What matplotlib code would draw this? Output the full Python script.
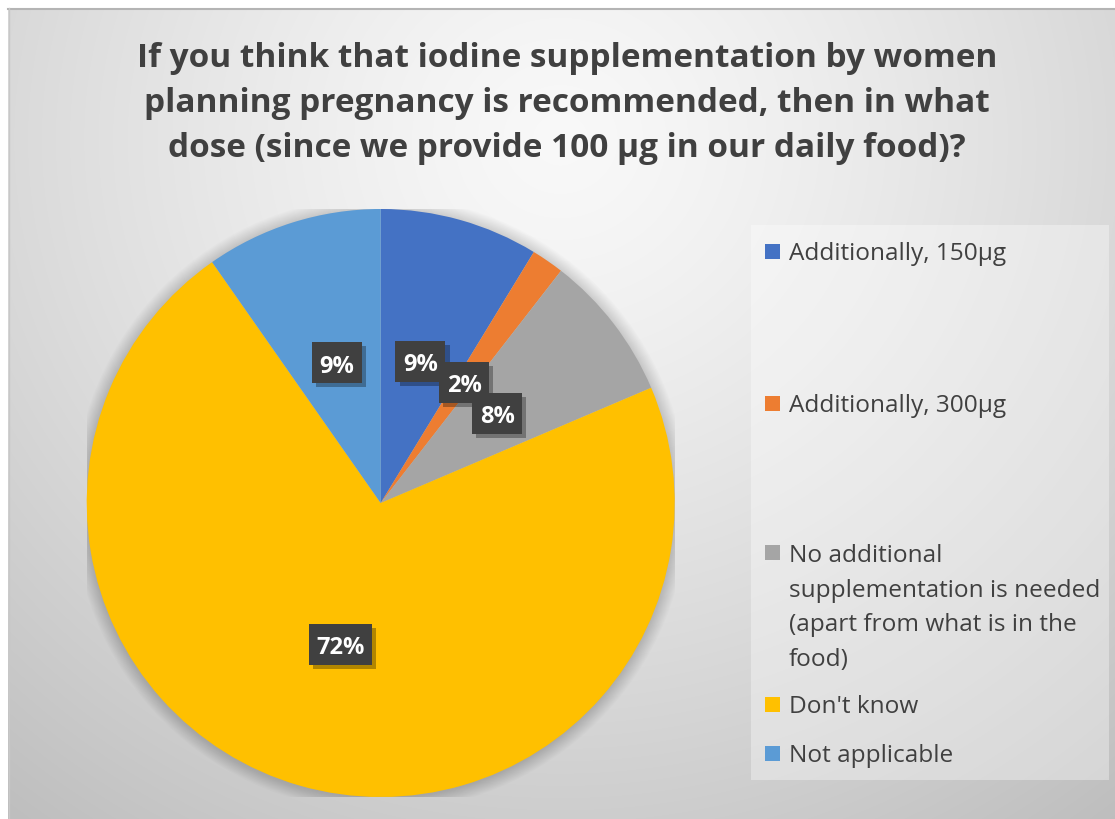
import numpy as np
import matplotlib.pyplot as plt
from matplotlib.patches import Rectangle, Circle
import matplotlib.patheffects as pe

plt.rcParams['font.family'] = ['Open Sans', 'DejaVu Sans']

#%% data
categories = ['Additionally, 150µg',
              'Additionally, 300µg',
              'No additional\nsupplementation is needed\n(apart from what is in the\nfood)',
              "Don't know",
              'Not applicable']
shares = [8.72, 1.79, 8.08, 71.69, 9.72]
pct_labels = ['9%', '2%', '8%', '72%', '9%']
colors = ['#4472C4', '#ED7D31', '#A5A5A5', '#FFC000', '#5B9BD5']
title = ('If you think that iodine supplementation by women\n'
         'planning pregnancy is recommended, then in what\n'
         'dose (since we provide 100 µg in our daily food)?')

W, H = 1115, 820
fig = plt.figure(figsize=(W / 100, H / 100), dpi=100)
fig.patch.set_facecolor('white')

#%% background gradient
bg = fig.add_axes([0, 0, 1, 1], zorder=-10)
yy, xx = np.mgrid[0:H, 0:W]
d = np.hypot(xx - 560, (yy - 140) * 1.05) / 870.0
v = np.clip(0.975 - 0.22 * d ** 1.3, 0, 1)
img = np.dstack([v, v, v])
img[:9, :, :] = 1.0
img[:, :8, :] = 1.0
bg.imshow(img, extent=(0, W, H, 0), aspect='auto', interpolation='bilinear')
bg.plot([8, W], [9.5, 9.5], color='#b4b4b4', lw=1.5)
bg.plot([8.5, 8.5], [9, H], color='#c8c8c8', lw=1.0)
bg.set_xlim(0, W)
bg.set_ylim(H, 0)
bg.axis('off')

# legend box
bg.add_patch(Rectangle((751, 226), 358, 555, facecolor='white', alpha=0.35,
                       edgecolor='none'))

#%% pie
cx, cy, r = 380.7, 504, 294
ax = fig.add_axes([(cx - r) / W, (H - cy - r) / H, 2 * r / W, 2 * r / H])
for k in range(14):
    ax.add_patch(Circle((0, -0.003), 1.0 + 0.0035 * k, color='black',
                        alpha=0.012, lw=0, zorder=0))
wedges, _ = ax.pie(shares, colors=colors, startangle=90, counterclock=False,
                   wedgeprops=dict(linewidth=0))
for w in wedges:
    w.set_zorder(2)
ax.set_xlim(-1, 1)
ax.set_ylim(-1, 1)
ax.set_aspect('equal')
ax.axis('off')

# label boxes, sized in pixels
bw, bh = 50 / r, 41 / r
for w, lab in zip(wedges, pct_labels):
    mid = np.deg2rad((w.theta1 + w.theta2) / 2)
    lx, ly = 0.5 * np.cos(mid), 0.5 * np.sin(mid)
    wid = bw * (1.25 if len(lab) > 2 else 1.0)
    box = Rectangle((lx - wid / 2, ly - bh / 2), wid, bh, facecolor='#404040',
                    edgecolor='none', zorder=4)
    box.set_path_effects([
        pe.SimplePatchShadow(offset=(3, -3), shadow_rgbFace='black', alpha=0.3),
        pe.Normal()])
    ax.add_patch(box)
    ax.text(lx, ly, lab, ha='center', va='center_baseline', color='white',
            fontsize=17, fontweight='bold', zorder=5)

#%% title
fig.text(567 / W, 1 - 103.5 / H, title, ha='center', va='center',
         fontsize=24, fontweight='bold', color='#404040', linespacing=1.47)

#%% legend
legend_y = [252, 404, 553, 705, 754]
line_h = 34.7
for cat, col, y in zip(categories, colors, legend_y):
    bg.add_patch(Rectangle((765, y - 7.5), 15, 15, facecolor=col,
                           edgecolor='none'))
    nl = cat.count('\n')
    bg.text(789, y + 8.5 + nl * line_h, cat, ha='left', va='baseline',
            fontsize=17.6, color='#404040', linespacing=1.58)

fig.savefig('out.png', dpi=100)
